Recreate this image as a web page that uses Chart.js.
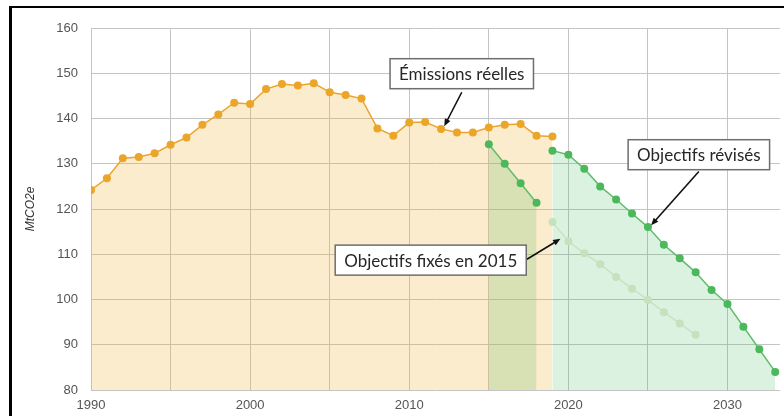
<!DOCTYPE html>
<html>
<head>
<meta charset="utf-8">
<script src="https://cdn.jsdelivr.net/npm/chart.js@4"></script>
<style>
  body { margin: 0; background: #fff; }
  #wrap { position: relative; width: 784px; height: 416px; overflow: hidden; }
  #frame { position: absolute; left: 9px; top: 6px; width: 800px; height: 430px;
           border-left: 3px solid #000; border-top: 2px solid #000; pointer-events: none; }
</style>
</head>
<body>
<div id="wrap">
  <canvas id="chart" width="784" height="416"></canvas>
  <div id="frame"></div>
</div>
<script>
// Emissions réelles (MtCO2e)
const emissionYears = [ 1990, 1991, 1992, 1993, 1994, 1995, 1996, 1997, 1998, 1999,
  2000, 2001, 2002, 2003, 2004, 2005, 2006, 2007, 2008, 2009,
  2010, 2011, 2012, 2013, 2014, 2015, 2016, 2017, 2018, 2019 ];
const emissionValues = [ 124.2, 126.8, 131.2, 131.5, 132.3, 134.2, 135.8, 138.6, 140.9, 143.5,
  143.2, 146.5, 147.6, 147.3, 147.8, 145.8, 145.2, 144.4, 137.8, 136.2,
  139.1, 139.2, 137.7, 136.9, 136.9, 138.0, 138.6, 138.8, 136.2, 136.0 ];

// Objectifs 2015-2018 (premier budget)
const firstTargetYears = [ 2015, 2016, 2017, 2018 ];
const firstTargetValues = [ 134.3, 130.0, 125.7, 121.4 ];

// Objectifs fixés en 2015
const fixedYears = [ 2019, 2020, 2021, 2022, 2023, 2024, 2025, 2026, 2027, 2028 ];
const fixedValues = [ 117.1, 112.9, 110.2, 107.8, 105.0, 102.4, 99.9, 97.2, 94.7, 92.2 ];

// Objectifs révisés
const revisedYears = [ 2019, 2020, 2021, 2022, 2023, 2024, 2025, 2026, 2027, 2028,
  2029, 2030, 2031, 2032, 2033 ];
const revisedValues = [ 132.9, 132.0, 128.9, 125.0, 122.1, 119.0, 116.0, 112.1, 109.1, 106.0,
  102.1, 99.0, 94.0, 89.0, 84.0 ];

const xTicks = [ 1990, 1995, 2000, 2005, 2010, 2015, 2020, 2025, 2030 ];
const yTicks = [ 80, 90, 100, 110, 120, 130, 140, 150, 160 ];

// Callout boxes, placed in data units: box centre, arrow start, arrow tip
const callouts = [
  { text: "Émissions réelles", box: [ 2013.3, 149.9 ], from: [ 2013.3, 145.8 ], to: [ 2012.2, 138.3 ] },
  { text: "Objectifs révisés", box: [ 2028.2, 132.0 ], from: [ 2028.2, 128.3 ], to: [ 2025.2, 116.4 ] },
  { text: "Objectifs fixés en 2015", box: [ 2011.35, 108.7 ], from: [ 2017.4, 108.9 ], to: [ 2019.5, 113.4 ] }
];

let toPoints = ( xs, ys ) => xs.map( ( x, i ) => ( { x: x, y: ys[ i ] } ) );

const calloutPlugin = {
  id: "callouts",
  afterDraw( chart ) {
    let ctx = chart.ctx;
    let sx = chart.scales.x;
    let sy = chart.scales.y;

    ctx.save();
    ctx.font = "17px Lato";
    ctx.textAlign = "center";
    ctx.textBaseline = "middle";

    callouts.forEach( ( c ) => {
      // arrow
      let x1 = sx.getPixelForValue( c.from[ 0 ] ), y1 = sy.getPixelForValue( c.from[ 1 ] );
      let x2 = sx.getPixelForValue( c.to[ 0 ] ), y2 = sy.getPixelForValue( c.to[ 1 ] );
      let ang = Math.atan2( y2 - y1, x2 - x1 );
      ctx.strokeStyle = "#111";
      ctx.fillStyle = "#111";
      ctx.lineWidth = 1.6;
      ctx.beginPath();
      ctx.moveTo( x1, y1 );
      ctx.lineTo( x2 - 5 * Math.cos( ang ), y2 - 5 * Math.sin( ang ) );
      ctx.stroke();
      ctx.beginPath();
      ctx.moveTo( x2, y2 );
      ctx.lineTo( x2 - 8 * Math.cos( ang - 0.4 ), y2 - 8 * Math.sin( ang - 0.4 ) );
      ctx.lineTo( x2 - 8 * Math.cos( ang + 0.4 ), y2 - 8 * Math.sin( ang + 0.4 ) );
      ctx.closePath();
      ctx.fill();

      // box
      let cx = sx.getPixelForValue( c.box[ 0 ] ), cy = sy.getPixelForValue( c.box[ 1 ] );
      let w = ctx.measureText( c.text ).width + 18;
      let h = 30;
      ctx.fillStyle = "#fff";
      ctx.fillRect( cx - w / 2, cy - h / 2, w, h );
      ctx.strokeStyle = "#6e6e6e";
      ctx.lineWidth = 1.5;
      ctx.strokeRect( cx - w / 2, cy - h / 2, w, h );
      ctx.fillStyle = "#262626";
      ctx.fillText( c.text, cx, cy + 1 );
    } );

    ctx.restore();
  }
};

new Chart( document.getElementById( "chart" ), {
  type: "line",
  data: {
    datasets: [
      {
        label: "Émissions réelles",
        data: toPoints( emissionYears, emissionValues ),
        borderColor: "#eaa52e",
        backgroundColor: "rgba(245,180,60,0.25)",
        pointBackgroundColor: "#eba528",
        pointBorderColor: "#eba528",
        fill: "start",
        order: 3
      },
      {
        label: "Objectifs 2015-2018",
        data: toPoints( firstTargetYears, firstTargetValues ),
        borderColor: "#5dbd6c",
        backgroundColor: "rgba(90,185,90,0.22)",
        pointBackgroundColor: "#4cb85c",
        pointBorderColor: "#4cb85c",
        fill: "start",
        order: 2
      },
      {
        label: "Objectifs révisés",
        data: toPoints( revisedYears, revisedValues ),
        borderColor: "#5dbd6c",
        backgroundColor: "rgba(80,190,100,0.2)",
        pointBackgroundColor: "#4cb85c",
        pointBorderColor: "#4cb85c",
        fill: "start",
        order: 1
      },
      {
        label: "Objectifs fixés en 2015",
        data: toPoints( fixedYears, fixedValues ),
        borderColor: "#c6e4c0",
        backgroundColor: "transparent",
        pointBackgroundColor: "#c3e2bd",
        pointBorderColor: "#c3e2bd",
        fill: false,
        order: 0
      }
    ]
  },
  options: {
    responsive: false,
    animation: false,
    events: [],
    elements: {
      line: { borderWidth: 1.5, tension: 0 },
      point: { radius: 4, borderWidth: 0 }
    },
    layout: { padding: { top: 28, left: 0, right: 0, bottom: 0 } },
    plugins: { legend: { display: false }, tooltip: { enabled: false } },
    scales: {
      x: {
        type: "linear",
        min: 1990,
        max: 2033.3,
        afterBuildTicks: ( scale ) => { scale.ticks = xTicks.map( ( v ) => ( { value: v } ) ); },
        afterFit: ( scale ) => { scale.height = 26; },
        grid: { color: "#c4c4c4", lineWidth: 1, drawTicks: false },
        border: { display: false },
        ticks: {
          autoSkip: false,
          maxRotation: 0,
          padding: 8,
          color: "#555",
          font: { family: "Liberation Sans", size: 13 },
          callback: ( v ) => ( v % 10 === 0 ? String( v ) : "" )
        }
      },
      y: {
        min: 80,
        max: 160,
        afterBuildTicks: ( scale ) => { scale.ticks = yTicks.map( ( v ) => ( { value: v } ) ); },
        afterFit: ( scale ) => { scale.width = 91; },
        grid: { color: "#c4c4c4", lineWidth: 1, drawTicks: false },
        border: { display: false },
        ticks: {
          padding: 13,
          color: "#555",
          font: { family: "Liberation Sans", size: 13 }
        },
        title: {
          display: true,
          text: "MtCO2e",
          color: "#333",
          padding: { top: 23, bottom: 0 },
          font: { family: "Liberation Sans", size: 12, style: "italic" }
        }
      }
    }
  },
  plugins: [ calloutPlugin ]
} );
</script>
</body>
</html>
